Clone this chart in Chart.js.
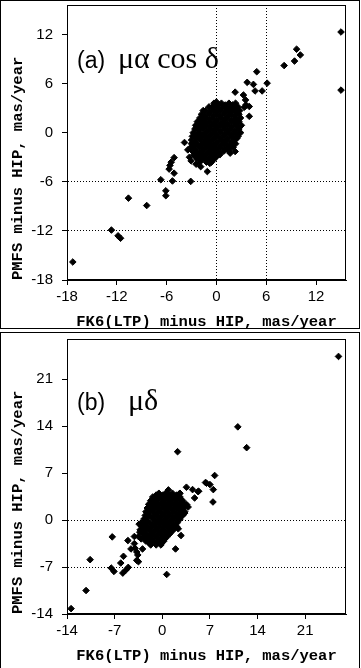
<!DOCTYPE html>
<html lang="en">
<head>
    <meta charset="UTF-8">
    <title>FK6(LTP) vs PMFS proper motions</title>
    <style>
        body {
            margin: 0;
            background: #fff;
            width: 361px;
            height: 668px;
            overflow: hidden;
            position: relative;
        }
        canvas {
            position: absolute;
            left: 0;
        }
        #chartA { top: 0; }
        #chartB { top: 334px; }
        .frame {
            position: absolute;
            left: 0;
            width: 358px;
            border: 1px solid #000;
            pointer-events: none;
        }
        #frameA { top: 0; height: 327px; }
        #frameB { top: 332px; height: 400px; }
    </style>
</head>
<body>
    <canvas id="chartA" width="361" height="332"></canvas>
    <canvas id="chartB" width="361" height="332"></canvas>
    <div class="frame" id="frameA"></div>
    <div class="frame" id="frameB"></div>

    <script src="https://cdn.jsdelivr.net/npm/chart.js"></script>
    <script>
        // tick labels and dotted reference lines
        const raTicks = [-18, -12, -6, 0, 6, 12];
        const decTicks = [-14, -7, 0, 7, 14, 21];
        const raGridX = [0, 6];
        const raGridY = [-6, -12];
        const decGridX = [];
        const decGridY = [0, -7];

        // (a) mu_alpha cos delta : [FK6(LTP) - HIP, PMFS - HIP]
        const raPoints = [
            [15.0, 12.3], [15.0, 5.2], [9.65, 10.2], [10.1, 9.5], [9.4, 8.75], [8.15, 8.2],
            [6.1, 6.05], [4.85, 7.45], [3.7, 6.15], [4.45, 5.9], [4.65, 5.1], [5.5, 5.1],
            [2.25, 4.95], [3.95, 2.0], [3.25, 4.6], [3.5, 4.0], [3.55, 3.4], [3.95, 3.2],
            [3.35, 3.1], [1.65, -2.5], [2.25, -2.3], [-1.1, -4.75], [-0.8, -3.75],
            [-3.85, -1.2], [-3.45, -2.1], [-3.25, -3.0], [-3.05, -3.45], [-1.9, -4.15],
            [-2.45, -3.85], [-5.1, -3.05], [-5.45, -3.6], [-5.6, -4.0], [-5.7, -4.45],
            [-5.1, -4.95], [-5.3, -5.9], [-6.7, -5.75], [-3.1, -5.95], [-6.1, -7.1],
            [-6.1, -7.7], [-10.6, -8.0], [-8.4, -8.9], [-12.65, -11.9], [-11.85, -12.6],
            [-11.55, -12.9], [-17.3, -15.8], [0.0, 3.75],
            // dense core
            [-0.3, 3.6], [0.6, 3.6], [1.5, 3.6], [2.3, 3.6],
            [0.15, 3.38], [1.05, 3.38], [1.95, 3.38],
            [-0.9, 3.15], [0.0, 3.15], [0.9, 3.15], [1.8, 3.15], [2.6, 3.15],
            [-0.45, 2.93], [0.45, 2.93], [1.35, 2.93], [2.25, 2.93],
            [-1.3, 2.7], [-0.4, 2.7], [0.5, 2.7], [1.3, 2.7], [2.2, 2.7], [2.8, 2.7],
            [-0.85, 2.48], [0.05, 2.48], [0.95, 2.48], [1.75, 2.48], [2.5, 2.48],
            [-1.8, 2.25], [-0.9, 2.25], [0.0, 2.25], [0.9, 2.25], [1.8, 2.25], [2.7, 2.25],
            [-1.35, 2.03], [-0.45, 2.03], [0.45, 2.03], [1.35, 2.03], [2.25, 2.03],
            [-2.0, 1.8], [-1.3, 1.8], [-0.4, 1.8], [0.5, 1.8], [1.3, 1.8], [2.2, 1.8], [2.9, 1.8],
            [-1.55, 1.58], [-0.85, 1.58], [0.05, 1.58], [0.95, 1.58], [1.75, 1.58], [2.6, 1.58],
            [-2.3, 1.35], [-1.7, 1.35], [-0.8, 1.35], [0.0, 1.35], [0.9, 1.35], [1.8, 1.35], [2.7, 1.35],
            [-1.85, 1.13], [-1.25, 1.13], [-0.35, 1.13], [0.45, 1.13], [1.35, 1.13], [2.25, 1.13],
            [-2.5, 0.9], [-2.0, 0.9], [-1.2, 0.9], [-0.4, 0.9], [0.5, 0.9], [1.3, 0.9], [2.2, 0.9], [3.0, 0.9],
            [-2.05, 0.68], [-1.55, 0.68], [-0.75, 0.68], [0.05, 0.68], [0.95, 0.68], [1.75, 0.68], [2.6, 0.68],
            [-2.6, 0.45], [-1.6, 0.45], [-0.8, 0.45], [0.0, 0.45], [0.9, 0.45], [1.8, 0.45], [2.7, 0.45],
            [-2.15, 0.23], [-1.15, 0.23], [-0.35, 0.23], [0.45, 0.23], [1.35, 0.23], [2.25, 0.23],
            [-2.8, 0.0], [-2.0, 0.0], [-1.2, 0.0], [-0.4, 0.0], [0.5, 0.0], [1.3, 0.0], [2.2, 0.0], [2.9, 0.0],
            [-2.35, -0.23], [-1.55, -0.23], [-0.75, -0.23], [0.05, -0.23], [0.95, -0.23], [1.75, -0.23], [2.55, -0.23],
            [-2.9, -0.45], [-2.4, -0.45], [-1.6, -0.45], [-0.8, -0.45], [0.0, -0.45], [0.9, -0.45], [1.8, -0.45], [2.6, -0.45],
            [-2.45, -0.68], [-1.95, -0.68], [-1.15, -0.68], [-0.35, -0.68], [0.45, -0.68], [1.35, -0.68], [2.15, -0.68],
            [-3.0, -0.9], [-2.0, -0.9], [-1.2, -0.9], [-0.4, -0.9], [0.5, -0.9], [1.3, -0.9], [2.2, -0.9],
            [-2.55, -1.13], [-1.55, -1.13], [-0.75, -1.13], [0.05, -1.13], [0.95, -1.13], [1.75, -1.13],
            [-3.0, -1.35], [-2.4, -1.35], [-1.6, -1.35], [-0.8, -1.35], [0.0, -1.35], [0.9, -1.35], [1.8, -1.35], [2.3, -1.35],
            [-2.55, -1.58], [-1.95, -1.58], [-1.15, -1.58], [-0.35, -1.58], [0.45, -1.58], [1.35, -1.58], [1.9, -1.58],
            [-3.1, -1.8], [-2.0, -1.8], [-1.2, -1.8], [-0.4, -1.8], [0.5, -1.8], [1.3, -1.8], [2.0, -1.8],
            [-2.65, -2.03], [-1.55, -2.03], [-0.75, -2.03], [0.05, -2.03], [0.95, -2.03], [1.5, -2.03],
            [-2.9, -2.25], [-2.4, -2.25], [-1.6, -2.25], [-0.8, -2.25], [0.0, -2.25], [0.9, -2.25], [1.5, -2.25],
            [-2.45, -2.48], [-1.95, -2.48], [-1.15, -2.48], [-0.35, -2.48], [0.45, -2.48],
            [-2.7, -2.7], [-2.0, -2.7], [-1.2, -2.7], [-0.4, -2.7], [0.4, -2.7],
            [-2.25, -2.93], [-1.55, -2.93], [-0.75, -2.93], [-0.05, -2.93],
            [-2.4, -3.15], [-1.6, -3.15], [-0.8, -3.15], [-0.2, -3.15],
            [-1.95, -3.38], [-1.15, -3.38], [-0.5, -3.38],
            [-2.0, -3.6], [-1.2, -3.6], [-0.6, -3.6],
            [-1.6, 2.7], [-0.45, 3.2], [1.4, 2.95], [2.25, 1.55], [-2.4, 0.65], [-1.6, -2.9], [-2.7, -1.6], [2.45, -0.7]
        ];

        // (b) mu_delta : [FK6(LTP) - HIP, PMFS - HIP]
        const decPoints = [
            [25.9, 24.4], [11.1, 13.9], [12.4, 10.8], [2.25, 10.2], [7.7, 6.65], [6.35, 5.6],
            [7.0, 5.3], [7.5, 4.55], [7.45, 2.7], [5.35, 4.3], [4.45, 4.55], [4.75, 3.3],
            [3.55, 4.9], [3.8, 1.95], [2.75, -2.3], [1.95, -4.3], [0.65, -8.1], [-7.35, -2.5],
            [-10.6, -5.9], [-11.2, -10.5], [-13.4, -13.2], [-7.5, -7.15], [-7.1, -7.65],
            [-6.1, -6.4], [-5.7, -5.4], [-5.8, -7.9], [-5.4, -7.5], [-5.0, -7.05],
            [-5.05, -3.05], [-4.6, -4.3], [-4.1, -2.45], [-4.1, -3.5], [-3.75, -4.75],
            [-3.6, -5.2], [-3.5, -6.2], [-3.75, -6.0], [-2.9, -4.3], [-3.1, -2.8],
            [-2.8, -0.3], [3.0, 1.6], [-3.5, -2.45], [-4.0, -4.2], [-3.25, -1.45],
            [6.5, 5.5], [5.25, 4.25], [0.9, 4.5], [2.6, 4.0], [3.6, 2.3], [3.3, 1.05],
            [-3.3, -1.8], [-3.4, -0.6],
            // dense core
            [-0.5, 4.0], [0.5, 4.0], [1.5, 4.0], [2.5, 3.9],
            [-0.9, 3.73], [0.1, 3.73], [1.1, 3.73], [2.1, 3.73],
            [-1.4, 3.45], [-0.4, 3.45], [0.6, 3.45], [1.6, 3.45], [2.6, 3.45],
            [-1.2, 3.18], [-0.4, 3.18], [0.6, 3.18], [1.6, 3.18], [2.6, 3.18],
            [-1.7, 2.9], [-0.9, 2.9], [0.1, 2.9], [1.1, 2.9], [2.1, 2.9], [3.0, 2.9],
            [-1.5, 2.63], [-0.9, 2.63], [0.1, 2.63], [1.1, 2.63], [2.1, 2.63], [2.9, 2.63],
            [-2.0, 2.35], [-1.4, 2.35], [-0.4, 2.35], [0.6, 2.35], [1.6, 2.35], [2.6, 2.35], [3.3, 2.35],
            [-1.7, 2.08], [-0.9, 2.08], [0.1, 2.08], [1.1, 2.08], [2.1, 2.08], [2.8, 2.08],
            [-2.2, 1.8], [-0.9, 1.8], [0.1, 1.8], [1.1, 1.8], [2.1, 1.8], [3.1, 1.8],
            [-1.9, 1.53], [-1.4, 1.53], [-0.4, 1.53], [0.6, 1.53], [1.6, 1.53], [2.6, 1.53],
            [-2.4, 1.25], [-1.4, 1.25], [-0.4, 1.25], [0.6, 1.25], [1.6, 1.25], [2.6, 1.25], [3.3, 1.25],
            [-2.0, 0.98], [-0.9, 0.98], [0.1, 0.98], [1.1, 0.98], [2.1, 0.98], [2.8, 0.98],
            [-2.5, 0.7], [-1.9, 0.7], [-0.9, 0.7], [0.1, 0.7], [1.1, 0.7], [2.1, 0.7], [3.0, 0.7],
            [-2.2, 0.43], [-1.4, 0.43], [-0.4, 0.43], [0.6, 0.43], [1.6, 0.43], [2.5, 0.43],
            [-2.7, 0.15], [-1.4, 0.15], [-0.4, 0.15], [0.6, 0.15], [1.6, 0.15], [2.6, 0.15],
            [-2.3, -0.13], [-0.9, -0.13], [0.1, -0.13], [1.1, -0.13], [2.1, -0.13],
            [-2.8, -0.4], [-1.9, -0.4], [-0.9, -0.4], [0.1, -0.4], [1.1, -0.4], [2.2, -0.4],
            [-2.4, -0.68], [-1.4, -0.68], [-0.4, -0.68], [0.6, -0.68], [1.6, -0.68],
            [-3.0, -0.95], [-2.4, -0.95], [-1.4, -0.95], [-0.4, -0.95], [0.6, -0.95], [1.6, -0.95], [2.1, -0.95],
            [-2.5, -1.23], [-1.9, -1.23], [-0.9, -1.23], [0.1, -1.23], [1.1, -1.23], [1.6, -1.23],
            [-3.0, -1.5], [-1.9, -1.5], [-0.9, -1.5], [0.1, -1.5], [1.1, -1.5], [1.6, -1.5],
            [-2.5, -1.78], [-1.4, -1.78], [-0.4, -1.78], [0.6, -1.78], [1.2, -1.78],
            [-2.9, -2.05], [-2.4, -2.05], [-1.4, -2.05], [-0.4, -2.05], [0.6, -2.05], [1.1, -2.05],
            [-2.4, -2.33], [-1.9, -2.33], [-0.9, -2.33], [0.1, -2.33], [0.7, -2.33],
            [-2.7, -2.6], [-1.9, -2.6], [-0.9, -2.6], [0.1, -2.6], [0.6, -2.6],
            [-2.2, -2.88], [-1.4, -2.88], [-0.4, -2.88], [0.3, -2.88],
            [-2.4, -3.15], [-1.4, -3.15], [-0.4, -3.15], [0.2, -3.15],
            [-1.9, -3.43], [-0.9, -3.43], [-0.1, -3.43],
            [-1.7, -3.7], [-0.9, -3.7], [-0.2, -3.7],
            [-1.9, 1.5], [-1.9, -2.35], [2.6, 0.45], [2.35, -1.3]
        ];

        const monoFont = {family: '"Liberation Mono", "Courier New", monospace', size: 15.5, weight: 'bold'};
        const tickFont = {family: '"Liberation Sans", Arial, sans-serif', size: 15};

        // box around the plot area plus the panel label
        const panelPlugin = {
            id: 'panel',
            afterDraw(chart, args, o) {
                const {ctx, chartArea: a} = chart;
                ctx.save();
                ctx.strokeStyle = '#000';
                ctx.lineWidth = 1;
                ctx.strokeRect(Math.round(a.left) + 0.5, Math.round(a.top) + 0.5,
                    Math.round(a.right - a.left) - 1, Math.round(a.bottom - a.top) - 1);
                ctx.fillStyle = '#000';
                ctx.textBaseline = 'alphabetic';
                ctx.font = '23px "Liberation Sans"';
                ctx.fillText(o.tag, 77, o.baseline);
                ctx.font = '30px "Liberation Serif"';
                ctx.fillText(o.symbol, o.symbolX, o.baseline);
                ctx.restore();
            }
        };

        function gridColor(values) {
            return c => (c.tick && values.includes(c.tick.value)) ? '#000' : 'rgba(0,0,0,0)';
        }

        function makeChart(id, points, range, ticks, gridX, gridY, label) {
            const axis = (horizontal, grid) => ({
                type: 'linear',
                min: range[0],
                max: range[1],
                afterBuildTicks: s => { s.ticks = ticks.map(v => ({value: v})); },
                afterFit: s => {
                    if (horizontal) s.height = 52; else s.width = 67;
                    // keep the plot box where it is, labels may hang over
                    s.paddingTop = 0; s.paddingBottom = 0;
                    s.paddingLeft = 0; s.paddingRight = 0;
                },
                grid: {
                    color: gridColor(grid),
                    tickColor: '#000',
                    tickLength: 5,
                    lineWidth: 1
                },
                border: {display: true, color: '#000', width: 1, dash: [1, 2]},
                ticks: {
                    color: '#000',
                    font: tickFont,
                    padding: horizontal ? 3 : 9,
                    maxRotation: 0,
                    autoSkip: false,
                    callback: v => String(v)
                },
                title: {
                    display: true,
                    text: horizontal ? 'FK6(LTP) minus HIP, mas/year' : 'PMFS minus HIP, mas/year',
                    color: '#000',
                    font: monoFont,
                    align: horizontal ? 'center' : 'start',
                    padding: horizontal ? {top: 0, bottom: 1} : {top: 9, bottom: 0}
                }
            });

            return new Chart(document.getElementById(id), {
                type: 'scatter',
                data: {
                    datasets: [{
                        data: points.map(p => ({x: p[0], y: p[1]})),
                        pointStyle: 'rectRot',
                        pointRadius: 3.3,
                        backgroundColor: '#000',
                        borderColor: '#000',
                        borderWidth: 1
                    }]
                },
                options: {
                    responsive: false,
                    animation: false,
                    events: [],
                    layout: {padding: {top: 5, right: 15, left: 0, bottom: 0}},
                    scales: {
                        x: axis(true, gridX),
                        y: axis(false, gridY)
                    },
                    plugins: {
                        legend: {display: false},
                        tooltip: {enabled: false},
                        panel: label
                    }
                },
                plugins: [panelPlugin]
            });
        }

        makeChart('chartA', raPoints, [-18, 15.6], raTicks, raGridX, raGridY,
            {tag: '(a)', symbol: 'μα cos δ', symbolX: 118, baseline: 68});
        makeChart('chartB', decPoints, [-14, 27], decTicks, decGridX, decGridY,
            {tag: '(b)', symbol: 'μδ', symbolX: 128, baseline: 76});
    </script>
</body>
</html>
